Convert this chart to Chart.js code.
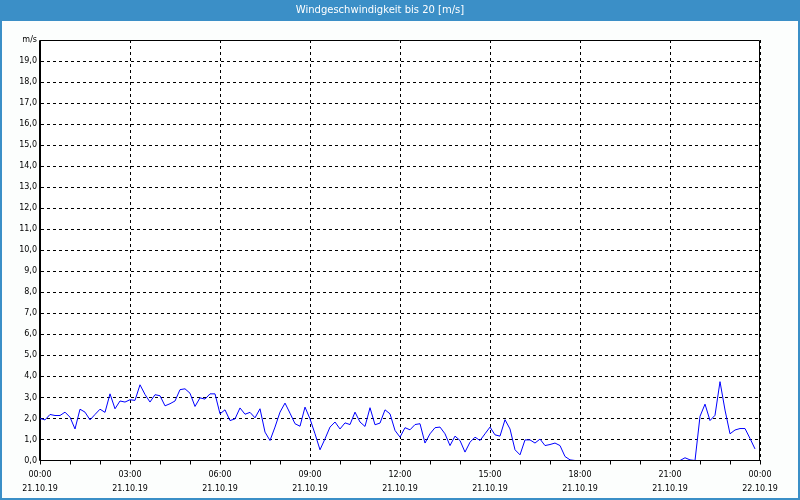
<!DOCTYPE html>
<html>
<head>
<meta charset="utf-8">
<script src="https://cdn.jsdelivr.net/npm/chart.js@4/dist/chart.umd.min.js"></script>
<style>
html,body{margin:0;padding:0;background:#fcfefd;}
#wrap{width:800px;height:500px;position:relative;}
</style>
</head>
<body>
<div id="wrap"><canvas id="c" width="800" height="500"></canvas></div>
<script>
const chartTitle = 'Windgeschwindigkeit bis 20 [m/s]';
const yUnit = 'm/s';
const intervalMinutes = 10;
const xTickTimes = ['00:00','03:00','06:00','09:00','12:00','15:00','18:00','21:00','00:00'];
const xTickDates = ['21.10.19','21.10.19','21.10.19','21.10.19','21.10.19','21.10.19','21.10.19','21.10.19','22.10.19'];
const windSpeed = [
  2.0,1.93,2.19,2.14,2.14,2.3,2.06,1.5,2.44,2.3,1.93,2.19,
  2.44,2.29,3.17,2.46,2.83,2.78,2.89,2.86,3.6,3.14,2.78,3.13,
  3.08,2.6,2.7,2.83,3.37,3.41,3.2,2.57,2.98,2.92,3.17,3.17,
  2.22,2.41,1.9,1.98,2.5,2.2,2.29,2.03,2.46,1.35,0.95,1.59,
  2.3,2.73,2.25,1.75,1.63,2.54,1.98,1.27,0.51,1.03,1.59,1.83,
  1.5,1.79,1.71,2.3,1.83,1.62,2.51,1.7,1.78,2.41,2.22,1.43,
  1.11,1.56,1.46,1.71,1.75,0.83,1.27,1.56,1.59,1.27,0.71,1.16,
  0.95,0.4,0.87,1.11,0.95,1.27,1.59,1.22,1.16,1.94,1.5,0.51,
  0.27,0.98,0.98,0.83,1.02,0.71,0.76,0.83,0.71,0.19,0.03,0,
  0,0,0,0,0,0,0,0,0,0,0,0,
  0,0,0,0,0,0,0,0,0,0.13,0.03,0,
  2.1,2.68,1.9,2.15,3.75,2.4,1.27,1.45,1.52,1.52,1.05,0.55
];

const points = windSpeed.map((v, i) => ({x: i * intervalMinutes, y: v}));
const FONT = '"DejaVu Sans", Verdana, sans-serif';
const BLUE = '#3b8fc7';

const framePlugin = {
  id: 'frame',
  beforeDraw(chart) {
    const ctx = chart.ctx, W = chart.width, H = chart.height, a = chart.chartArea;
    ctx.save();
    ctx.fillStyle = '#fcfefd';
    ctx.fillRect(0, 0, W, H);
    ctx.fillStyle = BLUE;
    ctx.fillRect(0, 0, W, 21);
    ctx.fillRect(0, 0, 2, H);
    ctx.fillRect(W - 2, 0, 2, H);
    ctx.fillRect(0, H - 2, W, 2);
    ctx.fillStyle = '#ffffff';
    ctx.fillRect(a.left, a.top, a.right - a.left, a.bottom - a.top);
    ctx.restore();
  },
  afterDatasetsDraw(chart) {
    const ctx = chart.ctx, a = chart.chartArea;
    const l = Math.round(a.left) - 0.5, r = Math.round(a.right) - 0.5;
    const t = Math.round(a.top) + 0.5, b = Math.floor(a.bottom) + 0.5;
    ctx.save();
    ctx.strokeStyle = '#000';
    ctx.lineWidth = 1;
    ctx.setLineDash([]);
    ctx.beginPath();
    ctx.moveTo(l, t); ctx.lineTo(r, t); ctx.lineTo(r, b); ctx.lineTo(l, b); ctx.closePath();
    ctx.stroke();
    ctx.restore();
  }
};

new Chart(document.getElementById('c'), {
  type: 'line',
  data: {
    datasets: [{
      data: points,
      borderColor: '#0000ff',
      borderWidth: 1,
      pointRadius: 0,
      tension: 0,
      fill: false
    }]
  },
  options: {
    responsive: false,
    animation: false,
    layout: {padding: {left: 0, right: 40, top: 0, bottom: 0}},
    plugins: {
      legend: {display: false},
      tooltip: {enabled: false},
      title: {
        display: true,
        text: chartTitle,
        color: '#ffffff',
        font: {family: FONT, size: 10, weight: 'normal', lineHeight: 1.2},
        padding: {top: 4, bottom: 24}
      }
    },
    scales: {
      x: {
        type: 'linear',
        min: 0,
        max: 1440,
        afterFit(s) { s.height = 39.5; },
        ticks: {
          stepSize: 60,
          autoSkip: false,
          maxRotation: 0,
          padding: 3,
          color: '#000',
          font: {family: FONT, size: 8, lineHeight: 1.75},
          callback(v) {
            if (v % 180 !== 0) return '';
            const i = v / 180;
            return [xTickTimes[i], xTickDates[i]];
          }
        },
        grid: {
          color: c => (c.tick && c.tick.value % 180 === 0) ? '#000' : 'rgba(0,0,0,0)',
          tickColor: '#000',
          tickLength: 4,
          tickBorderDash: [],
          lineWidth: 1
        },
        border: {display: true, color: '#000', width: 1, dash: [3, 3]}
      },
      y: {
        min: 0,
        max: 20,
        afterFit(s) { s.width = 40; },
        ticks: {
          stepSize: 1,
          padding: 3,
          color: '#000',
          font: {family: FONT, size: 8},
          callback(v) { return v === 20 ? yUnit : v.toFixed(1).replace('.', ','); }
        },
        grid: {
          color: '#000',
          drawTicks: false,
          lineWidth: 1
        },
        border: {display: true, color: '#000', width: 1, dash: [3, 3]}
      }
    }
  },
  plugins: [framePlugin]
});
</script>
</body>
</html>
